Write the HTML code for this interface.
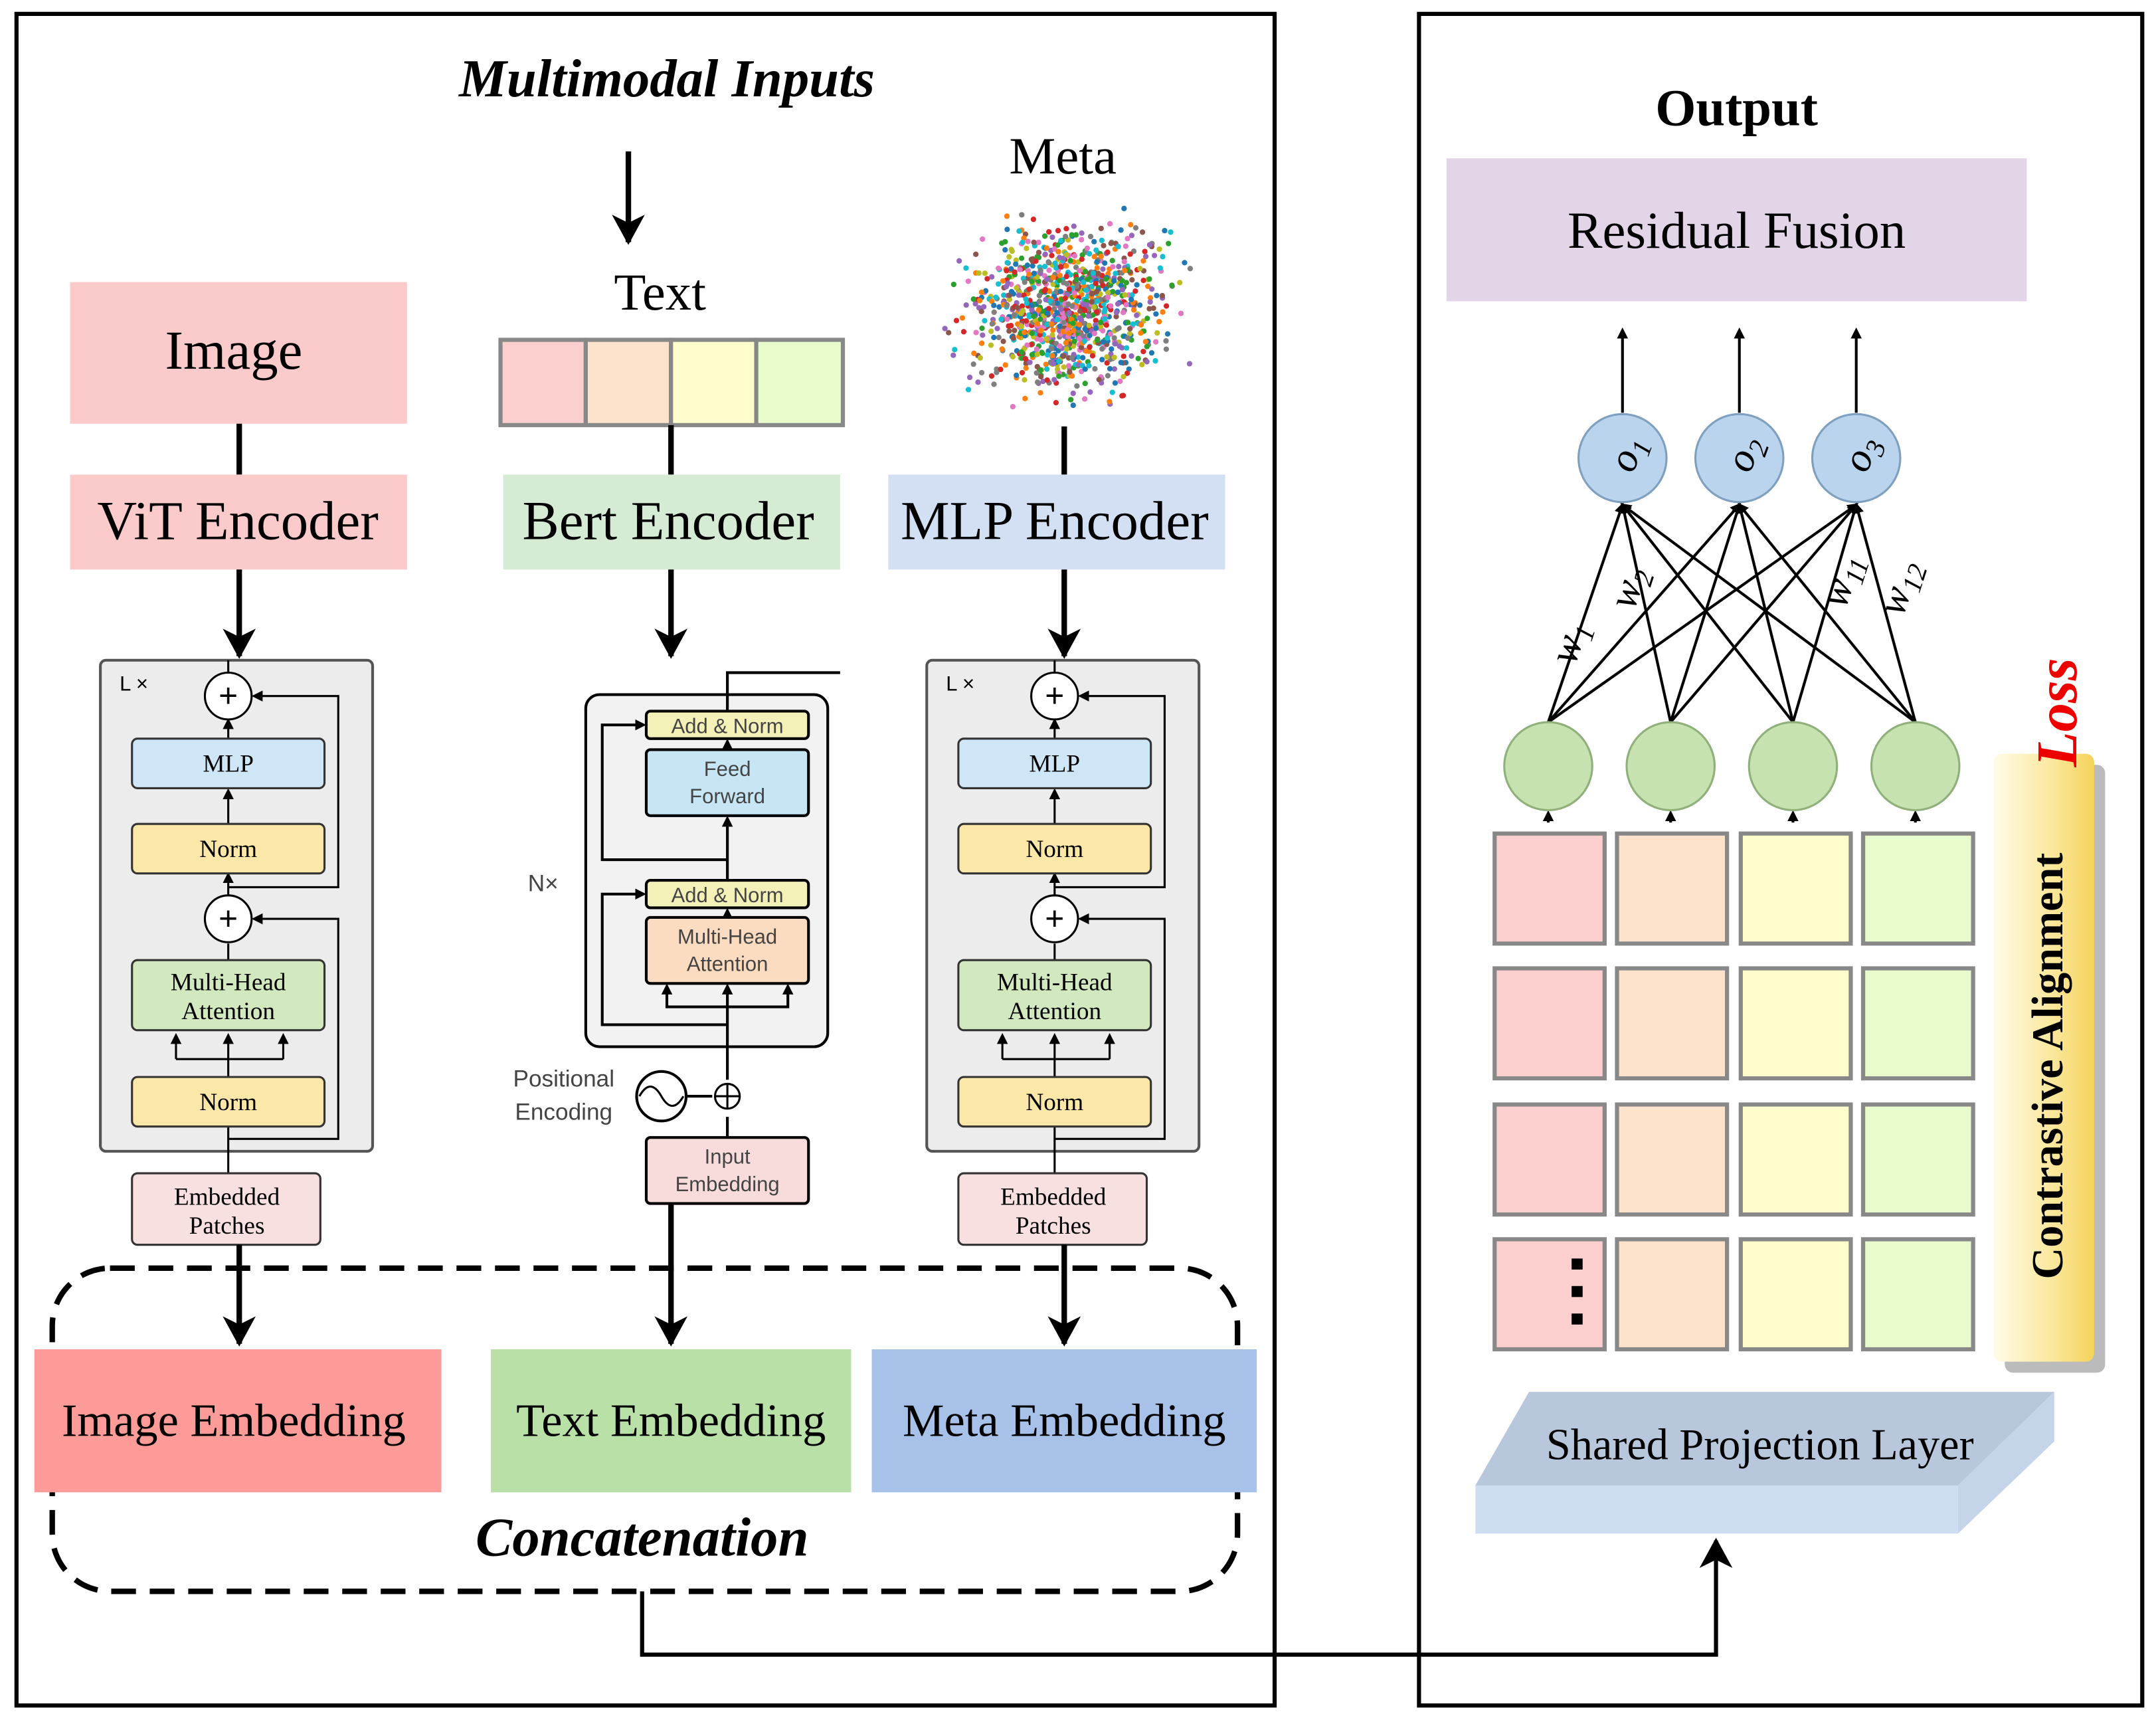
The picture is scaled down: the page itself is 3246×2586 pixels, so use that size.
<!DOCTYPE html>
<html><head><meta charset="utf-8"><style>
html,body{margin:0;padding:0;background:#fff}
svg{display:block}
text{font-family:"Liberation Serif",serif}
.s{font-family:"Liberation Sans",sans-serif}
</style></head><body>
<svg id="sv" width="3246" height="2586" viewBox="0 0 1568 1249" xmlns="http://www.w3.org/2000/svg">
<defs>
<marker id="ah" markerWidth="8" markerHeight="8" refX="6" refY="4" orient="auto" markerUnits="userSpaceOnUse"><path d="M0,0 L8,4 L0,8 Z" fill="#000"/></marker>
<marker id="AH" markerWidth="24" markerHeight="24" refX="20" refY="12" orient="auto" markerUnits="userSpaceOnUse"><path d="M0,0 L22,12 L0,24 L6,12 Z" fill="#000"/></marker>
<linearGradient id="gy" x1="0" x2="1"><stop offset="0" stop-color="#fffbe8"/><stop offset="0.6" stop-color="#fbe79a"/><stop offset="1" stop-color="#f5d25a"/></linearGradient>
</defs>
<rect x="12" y="10" width="915" height="1230" fill="none" stroke="#000" stroke-width="3"/>
<rect x="1032" y="10" width="526" height="1230" fill="none" stroke="#000" stroke-width="3"/>

<text x="485" y="70" font-size="39" font-weight="bold" font-style="italic" text-anchor="middle">Multimodal Inputs</text>
<line x1="457" y1="110" x2="457" y2="176" stroke="#000" stroke-width="4" marker-end="url(#AH)"/>
<text x="773" y="126" font-size="38" text-anchor="middle">Meta</text>
<text x="480" y="225" font-size="38" text-anchor="middle">Text</text>
<g id="cloud"></g>

<rect x="51" y="205" width="245" height="103" fill="#fbcaca"/>
<text x="170" y="268" font-size="40" text-anchor="middle">Image</text>
<g stroke="#888" stroke-width="3">
<rect x="364" y="247" width="62" height="62" fill="#fccfcf"/>
<rect x="426" y="247" width="62" height="62" fill="#fde3cc"/>
<rect x="488" y="247" width="62" height="62" fill="#fefdcb"/>
<rect x="550" y="247" width="63" height="62" fill="#e8fbcc"/>
</g>
<g stroke="#000" stroke-width="4">
<line x1="174" y1="308" x2="174" y2="345"/><line x1="488" y1="309" x2="488" y2="345"/><line x1="774" y1="310" x2="774" y2="345"/>
</g>
<rect x="51" y="345" width="245" height="69" fill="#fbcaca"/>
<rect x="366" y="345" width="245" height="69" fill="#d5ebd3"/>
<rect x="646" y="345" width="245" height="69" fill="#d3e0f3"/>
<text x="173" y="392" font-size="40" text-anchor="middle">ViT Encoder</text>
<text x="486" y="392" font-size="40" text-anchor="middle">Bert Encoder</text>
<text x="767" y="392" font-size="40" text-anchor="middle">MLP Encoder</text>
<g stroke="#000" stroke-width="4">
<line x1="174" y1="414" x2="174" y2="477" marker-end="url(#AH)"/>
<line x1="488" y1="414" x2="488" y2="477" marker-end="url(#AH)"/>
<line x1="774" y1="414" x2="774" y2="477" marker-end="url(#AH)"/>
</g>

<g id="vit">
<rect x="73" y="480" width="198" height="357" rx="4" fill="#ececec" stroke="#555" stroke-width="2"/>
<text x="87" y="502" font-size="15" class="s">L ×</text>
<g stroke="#000" stroke-width="1.5" fill="none">
<line x1="166" y1="905" x2="166" y2="819"/>
<line x1="166" y1="783" x2="166" y2="770"/>
<polyline points="128,770 206,770"/>
<line x1="128" y1="770" x2="128" y2="753" marker-end="url(#ah)"/>
<line x1="166" y1="770" x2="166" y2="753" marker-end="url(#ah)"/>
<line x1="206" y1="770" x2="206" y2="753" marker-end="url(#ah)"/>
<polyline points="166,828 246,828 246,668 185,668" marker-end="url(#ah)"/>
<line x1="166" y1="698" x2="166" y2="686"/>
<line x1="166" y1="651" x2="166" y2="636" marker-end="url(#ah)"/>
<polyline points="166,645 246,645 246,506 185,506" marker-end="url(#ah)"/>
<line x1="166" y1="599" x2="166" y2="575" marker-end="url(#ah)"/>
<line x1="166" y1="537" x2="166" y2="524" marker-end="url(#ah)"/>
<line x1="166" y1="489" x2="166" y2="480"/>
</g>
<circle cx="166" cy="506" r="17" fill="#fff" stroke="#000" stroke-width="1.5"/>
<text x="166" y="514" font-size="24" text-anchor="middle" class="s">+</text>
<circle cx="166" cy="668" r="17" fill="#fff" stroke="#000" stroke-width="1.5"/>
<text x="166" y="676" font-size="24" text-anchor="middle" class="s">+</text>
<rect x="96" y="537" width="140" height="36" rx="4" fill="#cfe6f7" stroke="#333" stroke-width="1.5"/>
<text x="166" y="561" font-size="18" text-anchor="middle">MLP</text>
<rect x="96" y="599" width="140" height="36" rx="4" fill="#fbe7a8" stroke="#333" stroke-width="1.5"/>
<text x="166" y="623" font-size="18" text-anchor="middle">Norm</text>
<rect x="96" y="698" width="140" height="51" rx="4" fill="#d2e9c0" stroke="#333" stroke-width="1.5"/>
<text x="166" y="720" font-size="18" text-anchor="middle">Multi-Head</text>
<text x="166" y="741" font-size="18" text-anchor="middle">Attention</text>
<rect x="96" y="783" width="140" height="36" rx="4" fill="#fbe7a8" stroke="#333" stroke-width="1.5"/>
<text x="166" y="807" font-size="18" text-anchor="middle">Norm</text>
<rect x="96" y="853" width="137" height="52" rx="4" fill="#f8e0e0" stroke="#333" stroke-width="1.5"/>
<text x="165" y="876" font-size="18" text-anchor="middle">Embedded</text>
<text x="165" y="897" font-size="18" text-anchor="middle">Patches</text>
</g>
<use href="#vit" x="601" y="0"/>

<rect x="426" y="505" width="176" height="256" rx="10" fill="#f2f2f2" stroke="#000" stroke-width="2"/>
<g stroke="#000" stroke-width="2" fill="none">
<line x1="529" y1="875" x2="529" y2="812"/>
<line x1="529" y1="785" x2="529" y2="717" marker-end="url(#ah)"/>
<polyline points="529,732 485,732 485,717" marker-end="url(#ah)"/>
<polyline points="529,732 573,732 573,717" marker-end="url(#ah)"/>
<polyline points="529,745 438,745 438,650 468,650" marker-end="url(#ah)"/>
<line x1="529" y1="667" x2="529" y2="662" marker-end="url(#ah)"/>
<line x1="529" y1="640" x2="529" y2="595" marker-end="url(#ah)"/>
<polyline points="529,625 438,625 438,527 468,527" marker-end="url(#ah)"/>
<line x1="529" y1="545" x2="529" y2="539" marker-end="url(#ah)"/>
<polyline points="529,517 529,489 611,489"/>
<line x1="499" y1="797" x2="518" y2="797"/>
</g>
<rect x="470" y="517" width="118" height="20" rx="3" fill="#f3f0b8" stroke="#000" stroke-width="2"/>
<text x="529" y="533" font-size="15" text-anchor="middle" class="s" fill="#444">Add &amp; Norm</text>
<rect x="470" y="545" width="118" height="48" rx="3" fill="#c7e6f5" stroke="#000" stroke-width="2"/>
<text x="529" y="564" font-size="15" text-anchor="middle" class="s" fill="#444">Feed</text>
<text x="529" y="584" font-size="15" text-anchor="middle" class="s" fill="#444">Forward</text>
<rect x="470" y="640" width="118" height="20" rx="3" fill="#f3f0b8" stroke="#000" stroke-width="2"/>
<text x="529" y="656" font-size="15" text-anchor="middle" class="s" fill="#444">Add &amp; Norm</text>
<rect x="470" y="667" width="118" height="48" rx="3" fill="#fbdcc0" stroke="#000" stroke-width="2"/>
<text x="529" y="686" font-size="15" text-anchor="middle" class="s" fill="#444">Multi-Head</text>
<text x="529" y="706" font-size="15" text-anchor="middle" class="s" fill="#444">Attention</text>
<text x="395" y="648" font-size="17" text-anchor="middle" class="s" fill="#444">N×</text>
<text x="410" y="790" font-size="17" text-anchor="middle" class="s" fill="#444">Positional</text>
<text x="410" y="814" font-size="17" text-anchor="middle" class="s" fill="#444">Encoding</text>
<circle cx="481" cy="797" r="18" fill="#fff" stroke="#000" stroke-width="2"/>
<path d="M465,797 q8,-14 16,0 t16,0" fill="none" stroke="#000" stroke-width="1.5"/>
<circle cx="529" cy="797" r="9" fill="#fff" stroke="#000" stroke-width="1.5"/>
<path d="M520,797h18M529,788v18" stroke="#000" stroke-width="1.5"/>
<rect x="470" y="827" width="118" height="48" rx="3" fill="#f8dcdc" stroke="#000" stroke-width="2"/>
<text x="529" y="846" font-size="15" text-anchor="middle" class="s" fill="#444">Input</text>
<text x="529" y="866" font-size="15" text-anchor="middle" class="s" fill="#444">Embedding</text>

<rect x="38" y="922" width="862" height="235" rx="42" fill="none" stroke="#000" stroke-width="4" stroke-dasharray="18,10"/>
<rect x="25" y="981" width="296" height="104" fill="#fc9b97"/>
<rect x="357" y="981" width="262" height="104" fill="#b9e0a6"/>
<rect x="634" y="981" width="280" height="104" fill="#a8c1e8"/>
<g stroke="#000" stroke-width="4">
<line x1="174" y1="905" x2="174" y2="977" marker-end="url(#AH)"/>
<line x1="488" y1="875" x2="488" y2="977" marker-end="url(#AH)"/>
<line x1="774" y1="905" x2="774" y2="977" marker-end="url(#AH)"/>
</g>
<text x="170" y="1044" font-size="34" text-anchor="middle">Image Embedding</text>
<text x="488" y="1044" font-size="34" text-anchor="middle">Text Embedding</text>
<text x="774" y="1044" font-size="34" text-anchor="middle">Meta Embedding</text>
<text x="467" y="1131" font-size="40" font-weight="bold" font-style="italic" text-anchor="middle">Concatenation</text>
<polyline points="467,1157 467,1203 1248,1203 1248,1120" fill="none" stroke="#000" stroke-width="3" marker-end="url(#AH)"/>

<text x="1263" y="91" font-size="38" font-weight="bold" text-anchor="middle">Output</text>
<rect x="1052" y="115" width="422" height="104" fill="#e2d5e8"/>
<text x="1263" y="180" font-size="38" text-anchor="middle">Residual Fusion</text>
<g stroke="#000" stroke-width="2">
<line x1="1180" y1="300" x2="1180" y2="240" marker-end="url(#ah)"/>
<line x1="1265" y1="300" x2="1265" y2="240" marker-end="url(#ah)"/>
<line x1="1350" y1="300" x2="1350" y2="240" marker-end="url(#ah)"/>
<g id="net"></g>
</g>
<g fill="#c5e2b0" stroke="#8fb07a" stroke-width="1.5">
<circle cx="1126" cy="557" r="32"/><circle cx="1215" cy="557" r="32"/><circle cx="1304" cy="557" r="32"/><circle cx="1393" cy="557" r="32"/>
</g>
<g fill="#b9d4ec" stroke="#7f9fbf" stroke-width="1.5">
<circle cx="1180" cy="333" r="32"/><circle cx="1265" cy="333" r="32"/><circle cx="1350" cy="333" r="32"/>
</g>
<g font-size="30" font-style="italic">
<text transform="translate(1192,333) rotate(-70)" text-anchor="middle">o<tspan font-size="20" dy="6">1</tspan></text>
<text transform="translate(1277,333) rotate(-70)" text-anchor="middle">o<tspan font-size="20" dy="6">2</tspan></text>
<text transform="translate(1362,333) rotate(-70)" text-anchor="middle">o<tspan font-size="20" dy="6">3</tspan></text>
<text transform="translate(1150,470) rotate(-72)" text-anchor="middle">w<tspan font-size="20" dy="6">1</tspan></text>
<text transform="translate(1193,430) rotate(-72)" text-anchor="middle">w<tspan font-size="20" dy="6">2</tspan></text>
<text transform="translate(1348,425) rotate(-72)" text-anchor="middle">w<tspan font-size="20" dy="6">11</tspan></text>
<text transform="translate(1390,430) rotate(-72)" text-anchor="middle">w<tspan font-size="20" dy="6">12</tspan></text>
</g>
<g id="grid" stroke="#888" stroke-width="3"></g>
<g fill="#000"><rect x="1143" y="915" width="8" height="8"/><rect x="1143" y="935" width="8" height="8"/><rect x="1143" y="955" width="8" height="8"/></g>

<rect x="1458" y="556" width="73" height="442" rx="6" fill="#bbb"/>
<rect x="1450" y="548" width="73" height="442" rx="6" fill="url(#gy)"/>
<text transform="translate(1500,775) rotate(-90)" font-size="32" font-weight="bold" text-anchor="middle">Contrastive Alignment</text>
<text transform="translate(1510,518) rotate(-90)" font-size="42" font-weight="bold" font-style="italic" fill="#e00" text-anchor="middle">Loss</text>

<polygon points="1112,1012 1494,1012 1424,1080 1073,1080" fill="#b8c7dc"/>
<polygon points="1494,1012 1494,1048 1424,1115 1424,1080" fill="#c6d4ea"/>
<rect x="1073" y="1080" width="351" height="35" fill="#cfddf3"/>
<text x="1280" y="1061" font-size="32" text-anchor="middle">Shared Projection Layer</text>
</svg>
<script>
var NS="http://www.w3.org/2000/svg";
function el(p,t,a){var e=document.createElementNS(NS,t);for(var k in a)e.setAttribute(k,a[k]);p.appendChild(e);return e;}
var g=document.getElementById("grid"),cols=[1087,1176,1266,1355],rows=[606,704,803,901],cc=["#fccfcf","#fde3cc","#fefdcb","#e8fbcc"];
rows.forEach(function(y){cols.forEach(function(x,i){el(g,"rect",{x:x,y:y,width:80,height:80,fill:cc[i]});});});
var n=document.getElementById("net");
[1126,1215,1304,1393].forEach(function(x){el(n,"line",{x1:x,y1:598,x2:x,y2:591,"marker-end":"url(#ah)"});
[1180,1265,1350].forEach(function(o){el(n,"line",{x1:x,y1:525,x2:o,y2:367,"marker-end":"url(#ah)"});});});
var c=document.getElementById("cloud"),s=7;function r(){s=(s*16807)%2147483647;return s/2147483647;}
function gs(){return (r()+r()+r()+r()-2)/2;}
var col=["#1f77b4","#ff7f0e","#2ca02c","#d62728","#9467bd","#8c564b","#e377c2","#7f7f7f","#bcbd22","#17becf"];
for(var i=0;i<1100;i++){var x=775+gs()*110,y=225+gs()*95;
if(x<686||x>866||y<150||y>302)continue;
el(c,"circle",{cx:x.toFixed(1),cy:y.toFixed(1),r:2,fill:col[Math.floor(r()*10)]});}
</script>
</body></html>
